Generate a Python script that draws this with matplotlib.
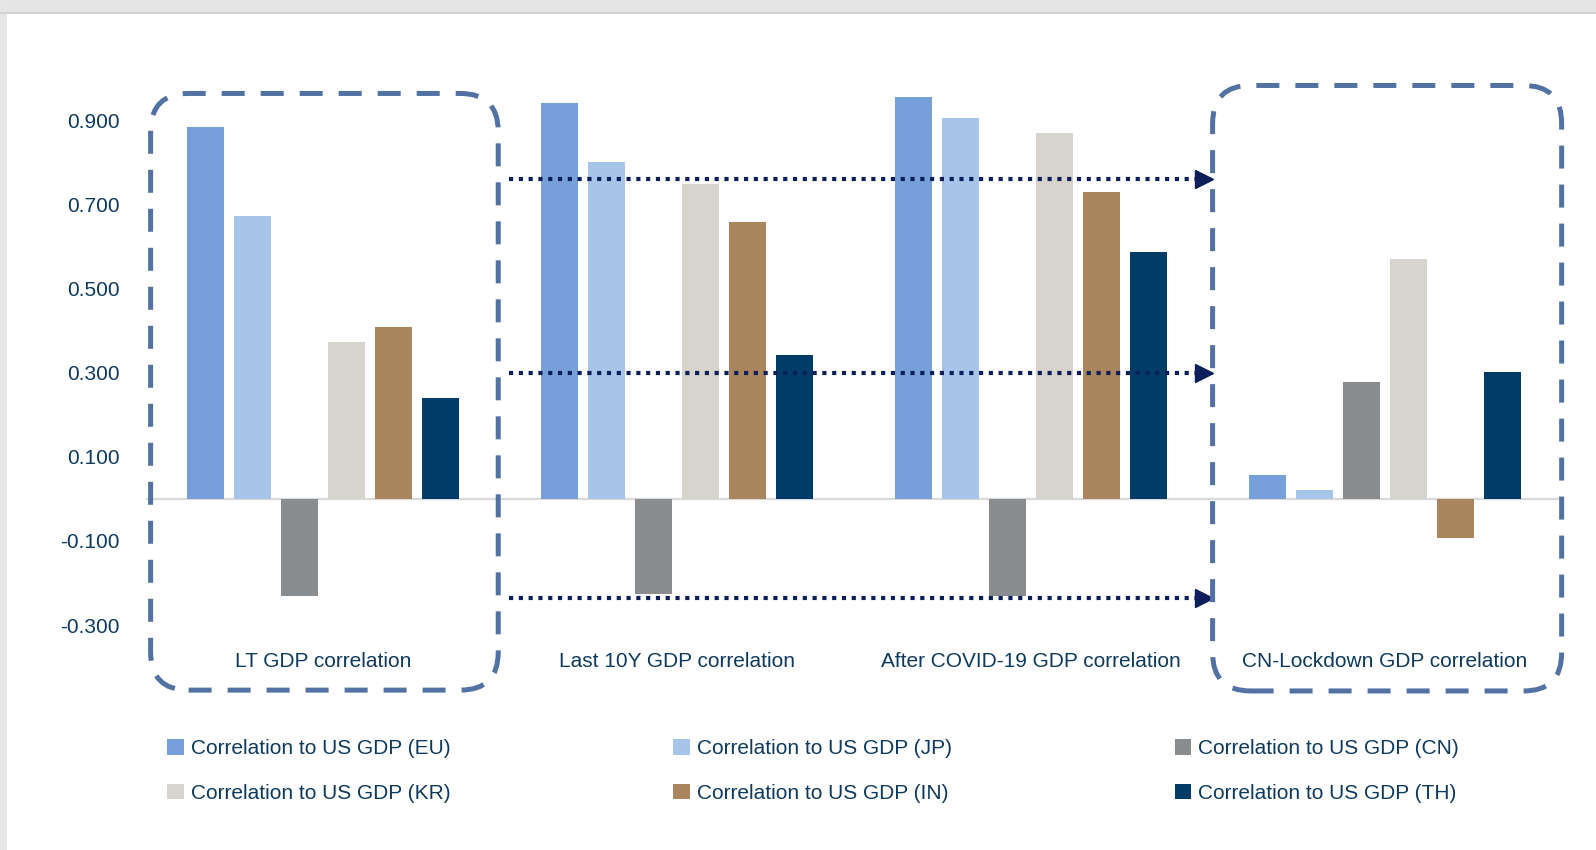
import numpy as np
import matplotlib.pyplot as plt
from matplotlib.patches import FancyBboxPatch, Rectangle, Patch
from matplotlib.transforms import IdentityTransform

plt.rcParams['font.family'] = ['Liberation Sans', 'DejaVu Sans']

groups = ["LT GDP correlation", "Last 10Y GDP correlation",
          "After COVID-19 GDP correlation", "CN-Lockdown GDP correlation"]
series = ["Correlation to US GDP (EU)", "Correlation to US GDP (JP)",
          "Correlation to US GDP (CN)", "Correlation to US GDP (KR)",
          "Correlation to US GDP (IN)", "Correlation to US GDP (TH)"]

eu = [0.885, 0.943, 0.957, 0.056]
jp = [0.674, 0.802, 0.906, 0.022]
cn = [-0.230, -0.225, -0.230, 0.279]
kr = [0.373, 0.749, 0.872, 0.572]
inn = [0.410, 0.659, 0.732, -0.092]
th = [0.240, 0.344, 0.589, 0.303]

yticks = [-0.3, -0.1, 0.1, 0.3, 0.5, 0.7, 0.9]
arrow_levels = [0.761, 0.300, -0.236]

colors = ["#779fd9", "#a7c5e9", "#8a8d90", "#d7d3cd", "#a9865d", "#003c67"]
txt = "#0e3a5f"
box_col = "#5272a3"
arrow_col = "#0c1f5a"

W, H = 1596, 850
fig = plt.figure(figsize=(W / 100, H / 100), dpi=100)
fig.patch.set_facecolor("white")

# grey frame strips at top / left
fig.patches.append(Rectangle((0, 1 - 14 / H), 1, 14 / H, transform=fig.transFigure,
                             facecolor="#e4e4e4", edgecolor="none", zorder=-5))
fig.patches.append(Rectangle((0, 1 - 14 / H), 1, 2 / H, transform=fig.transFigure,
                             facecolor="#d2d2d2", edgecolor="none", zorder=-4))
fig.patches.append(Rectangle((0, 0), 7 / W, 1, transform=fig.transFigure,
                             facecolor="#e6e6e6", edgecolor="none", zorder=-5))

ax = fig.add_axes([146 / W, 0.2054, (1562 - 146) / W, 0.7017])
ax.set_xlim(-0.5, 3.5)
ax.set_ylim(-0.42, 1.0)

x = np.arange(len(groups))
step = 0.133
width = 0.1034
data = [eu, jp, cn, kr, inn, th]
handles = []
for i, (vals, c) in enumerate(zip(data, colors)):
    ax.bar(x + (i - 2.5) * step, vals, width, color=c, edgecolor="none", zorder=2)
    handles.append(Patch(facecolor=c, edgecolor="none"))

ax.axhline(0, color="#dadada", lw=1.6, zorder=1)

for s in ax.spines.values():
    s.set_visible(False)
ax.set_xticks([])
ax.set_yticks(yticks)
ax.set_yticklabels([f"{v:.3f}" for v in yticks])
ax.tick_params(axis="y", length=0, pad=19, labelsize=15, labelcolor=txt)
# labels in the original sit a touch higher below zero
for lab, v in zip(ax.get_yticklabels(), yticks):
    lab.set_y(v + 0.012 * (0.9 - v) / 1.2 - 0.002)

for i, g in enumerate(groups):
    ax.text(x[i], -0.388, g, ha="center", va="center", fontsize=15, color=txt)

# dotted arrows between the two boxes
for lv in arrow_levels:
    ax.plot([0.525, 2.49], [lv, lv], color=arrow_col, lw=3, ls=(0, (1, 1.35)),
            dash_capstyle="butt", zorder=4, clip_on=False)
    ax.plot([2.488], [lv], marker=">", ms=13, color=arrow_col, mec=arrow_col, zorder=4,
            clip_on=False)

# dashed rounded boxes (in pixel coordinates)
for (x0, x1, y0, y1) in [(-0.487, 0.495, -0.455, 0.9655), (2.513, 3.499, -0.457, 0.9845)]:
    (px0, py0) = ax.transData.transform((x0, y0))
    (px1, py1) = ax.transData.transform((x1, y1))
    box = FancyBboxPatch((px0, py0), px1 - px0, py1 - py0,
                         boxstyle="round,pad=0,rounding_size=38",
                         transform=IdentityTransform(), fill=False,
                         edgecolor=box_col, lw=3.6, ls=(0, (4.6, 3.2)), zorder=5)
    fig.add_artist(box)

order = [0, 3, 1, 4, 2, 5]
leg = fig.legend([handles[k] for k in order], [series[k] for k in order], ncol=3,
                 loc="center left", bbox_to_anchor=(167 / W, 79 / H), frameon=False,
                 fontsize=15, labelcolor=txt, handlelength=0.8, handleheight=0.8,
                 handletextpad=0.35, columnspacing=10.68, labelspacing=1.2,
                 borderpad=0, borderaxespad=0)

fig.savefig("out.png", dpi=100)
